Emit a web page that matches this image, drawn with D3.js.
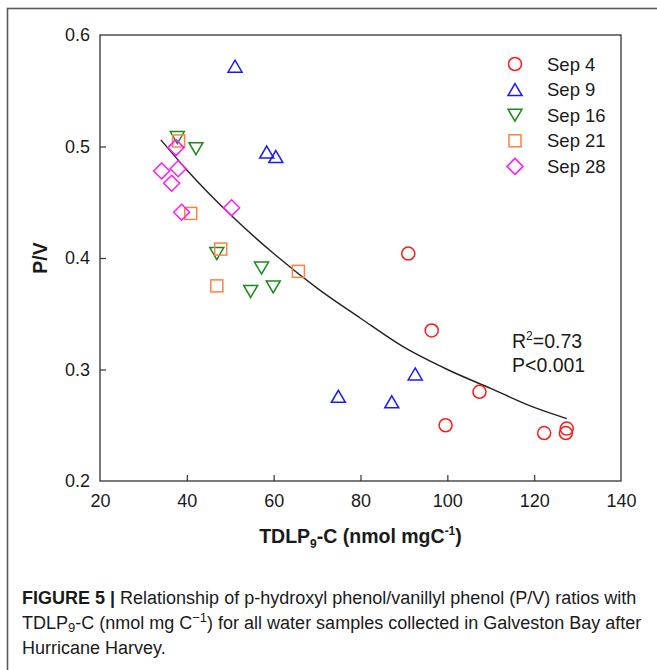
<!DOCTYPE html>
<html>
<head>
<meta charset="utf-8">
<script src="https://cdn.jsdelivr.net/npm/d3@7"></script>
<style>
  body { margin: 0; background: #fff; }
  text { font-family: "Liberation Sans", Arial, sans-serif; fill: #1a1a1a; }
</style>
</head>
<body>
<div id="chart"></div>
<script>
// Data
var sep4 = [[91.0, 0.404], [96.4, 0.335], [107.4, 0.280], [99.6, 0.250], [122.3, 0.243], [127.5, 0.247], [127.3, 0.243]];
var sep9 = [[51.1, 0.572], [58.4, 0.495], [60.5, 0.491], [92.6, 0.296], [74.9, 0.276], [87.2, 0.271]];
var sep16 = [[37.8, 0.508], [42.1, 0.498], [46.9, 0.404], [57.2, 0.391], [54.7, 0.370], [59.9, 0.374]];
var sep21 = [[38.1, 0.505], [40.9, 0.440], [47.8, 0.408], [65.7, 0.388], [46.9, 0.375]];
var sep28 = [[37.5, 0.499], [34.2, 0.478], [38.0, 0.480], [36.5, 0.467], [38.8, 0.441], [50.3, 0.445]];

// regression curve as drawn in the figure
var fitLine = [[34, 0.506], [40, 0.479], [50, 0.439], [60, 0.404], [70, 0.373], [80, 0.346],
               [90, 0.320], [100, 0.300], [110, 0.283], [120, 0.266], [127.5, 0.256]];

var xTicks = [20, 40, 60, 80, 100, 120, 140];
var yTicks = [0.2, 0.3, 0.4, 0.5, 0.6];
var seriesNames = ["Sep 4", "Sep 9", "Sep 16", "Sep 21", "Sep 28"];

var width = 657, height = 670;
var plotLeft = 100, plotRight = 621, plotTop = 35, plotBottom = 481;

var svg = d3.select("#chart").append("svg")
  .attr("width", width)
  .attr("height", height);

// outer figure frame
svg.append("rect")
  .attr("x", 7.5).attr("y", 8.5)
  .attr("width", 700).attr("height", 700)
  .attr("fill", "none")
  .attr("stroke", "#5a5a5a")
  .attr("stroke-width", 1.6);

var xScale = d3.scaleLinear().domain([20, 140]).range([plotLeft, plotRight]);
var yScale = d3.scaleLinear().domain([0.2, 0.6]).range([plotBottom, plotTop]);

// plot box
svg.append("rect")
  .attr("x", plotLeft).attr("y", plotTop)
  .attr("width", plotRight - plotLeft).attr("height", plotBottom - plotTop)
  .attr("fill", "none")
  .attr("stroke", "#333")
  .attr("stroke-width", 1.3);

// axes with inward ticks
var xAxis = d3.axisBottom(xScale).tickValues(xTicks).tickSizeInner(-6).tickSizeOuter(0).tickPadding(13);
var yAxis = d3.axisLeft(yScale).tickValues(yTicks).tickSizeInner(-6).tickSizeOuter(0).tickPadding(10)
  .tickFormat(d3.format(".1f"));

var gx = svg.append("g").attr("transform", "translate(0," + plotBottom + ")").call(xAxis);
var gy = svg.append("g").attr("transform", "translate(" + plotLeft + ",0)").call(yAxis);
[gx, gy].forEach(function(g) {
  g.select(".domain").remove();
  g.selectAll("line").attr("stroke", "#333").attr("stroke-width", 1.2);
  g.selectAll("text").attr("font-size", 18).attr("fill", "#1a1a1a")
    .style("font-family", "'Liberation Sans', Arial, sans-serif");
});
gx.selectAll(".tick").filter(function(d) { return d === 20 || d === 140; }).select("line").remove();
gy.selectAll(".tick").filter(function(d) { return d === 0.2 || d === 0.6; }).select("line").remove();

// axis titles
var xTitle = svg.append("text")
  .attr("x", (plotLeft + plotRight) / 2).attr("y", 543)
  .attr("text-anchor", "middle")
  .attr("font-size", 19.5).attr("font-weight", "bold");
xTitle.append("tspan").text("TDLP");
xTitle.append("tspan").attr("font-size", 12).attr("dy", 5).text("9");
xTitle.append("tspan").attr("dy", -5).text("-C (nmol mgC");
xTitle.append("tspan").attr("font-size", 12).attr("dy", -8).text("-1");
xTitle.append("tspan").attr("dy", 8).text(")");

svg.append("text")
  .attr("transform", "translate(47," + ((plotTop + plotBottom) / 2) + ") rotate(-90)")
  .attr("text-anchor", "middle")
  .attr("font-size", 19.5).attr("font-weight", "bold")
  .text("P/V");

// fit curve
var line = d3.line()
  .x(function(d) { return xScale(d[0]); })
  .y(function(d) { return yScale(d[1]); })
  .curve(d3.curveMonotoneX);

svg.append("path")
  .datum(fitLine)
  .attr("d", line)
  .attr("fill", "none")
  .attr("stroke", "#222")
  .attr("stroke-width", 1.4);

// marker shapes centred on their box
var shapes = {
  circle: function(g) { g.append("circle").attr("r", 6.5); },
  up: function(g) { g.append("path").attr("d", "M0,-6L7,6L-7,6Z"); },
  down: function(g) { g.append("path").attr("d", "M0,6L7,-6L-7,-6Z"); },
  square: function(g) { g.append("rect").attr("x", -6).attr("y", -6).attr("width", 12).attr("height", 12); },
  diamond: function(g) { g.append("path").attr("d", "M0,-8L8,0L0,8L-8,0Z"); }
};

var series = [
  { name: seriesNames[0], data: sep4, shape: "circle", color: "#ff1a1a" },
  { name: seriesNames[1], data: sep9, shape: "up", color: "#1a1aff" },
  { name: seriesNames[2], data: sep16, shape: "down", color: "#1a8a1a" },
  { name: seriesNames[3], data: sep21, shape: "square", color: "#ff8040" },
  { name: seriesNames[4], data: sep28, shape: "diamond", color: "#ff1aff" }
];

function drawMarker(parent, s, x, y) {
  var g = parent.append("g")
    .attr("transform", "translate(" + x + "," + y + ")")
    .attr("fill", "none")
    .attr("stroke", s.color)
    .attr("stroke-width", 1.5);
  shapes[s.shape](g);
}

var points = svg.append("g").attr("class", "points");
series.forEach(function(s) {
  s.data.forEach(function(d) {
    drawMarker(points, s, xScale(d[0]), yScale(d[1]));
  });
});

// legend
var legend = svg.append("g").attr("class", "legend");
series.forEach(function(s, i) {
  var ly = 64 + i * 25.6;
  drawMarker(legend, s, 515, ly);
  legend.append("text")
    .attr("x", 547).attr("y", ly + 6.5)
    .attr("font-size", 18.5)
    .text(s.name);
});

// statistics
var stat = svg.append("text").attr("x", 512).attr("y", 348).attr("font-size", 19.5);
stat.append("tspan").text("R");
stat.append("tspan").attr("font-size", 12).attr("dy", -8).text("2");
stat.append("tspan").attr("dy", 8).text("=0.73");
svg.append("text").attr("x", 512).attr("y", 372).attr("font-size", 19.5).text("P<0.001");

// caption
var capSize = 18;
var cap1 = svg.append("text").attr("x", 22).attr("y", 604).attr("font-size", capSize).attr("fill", "#2b2b2b");
cap1.append("tspan").attr("font-weight", "bold").text("FIGURE 5 | ");
cap1.append("tspan").text("Relationship of p-hydroxyl phenol/vanillyl phenol (P/V) ratios with");

var cap2 = svg.append("text").attr("x", 22).attr("y", 629).attr("font-size", capSize).attr("fill", "#2b2b2b");
cap2.append("tspan").text("TDLP");
cap2.append("tspan").attr("font-size", 13).attr("dy", 3).text("9");
cap2.append("tspan").attr("dy", -3).text("-C (nmol mg C");
cap2.append("tspan").attr("font-size", 13).attr("dy", -7).text("\u22121");
cap2.append("tspan").attr("dy", 7).text(") for all water samples collected in Galveston Bay after");

svg.append("text").attr("x", 22).attr("y", 654).attr("font-size", capSize).attr("fill", "#2b2b2b")
  .text("Hurricane Harvey.");
</script>
</body>
</html>
